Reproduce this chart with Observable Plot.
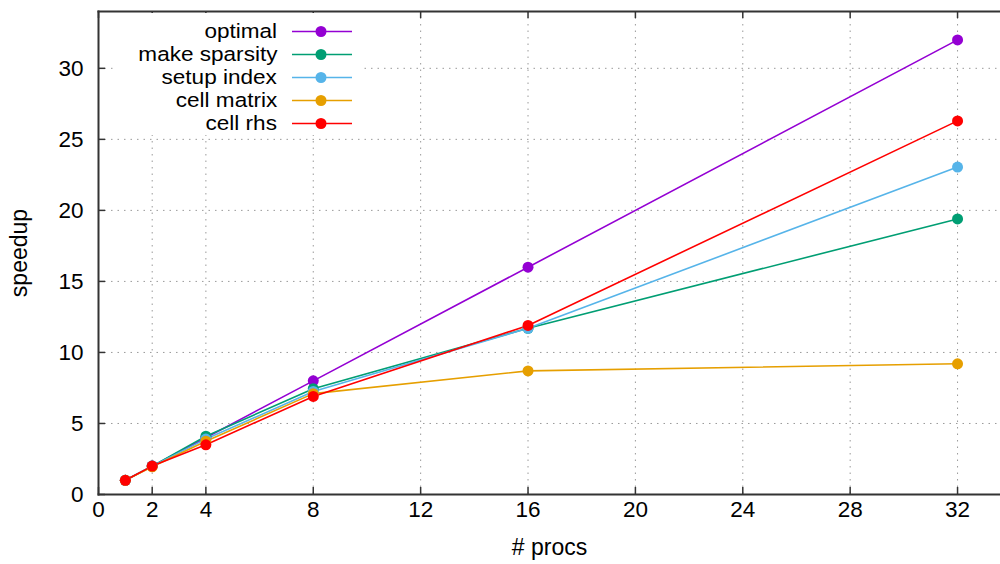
<!DOCTYPE html>
<html><head><meta charset="utf-8">
<script src="https://cdn.jsdelivr.net/npm/d3@7"></script>
<script src="https://cdn.jsdelivr.net/npm/@observablehq/plot@0.6"></script>
<style>
body{margin:0;background:#fff;font-family:"Liberation Sans",Arial,sans-serif;}
#wrap{position:relative;width:1000px;height:564px;overflow:hidden;}
#legend{position:absolute;left:113px;top:13px;width:250px;height:122px;background:#fff;}
.row{position:absolute;left:0;width:250px;height:23px;}
.row span{position:absolute;right:86px;top:0;display:block;height:22px;line-height:22px;font-size:20.5px;color:#000;white-space:nowrap;transform:scaleX(1.1);transform-origin:right center;}
.row svg{position:absolute;left:178px;top:0;}
</style></head><body>
<div id="wrap"><div id="chart"></div><div id="legend"></div></div>
<script>
const procs = [1, 2, 4, 8, 16, 32];
const seriesNames = ["optimal", "make sparsity", "setup index", "cell matrix", "cell rhs"];
const seriesColors = ["#9400d3", "#009e73", "#56b4e9", "#e69f00", "#ff0000"];
const optimal = [1, 2, 4, 8, 16, 32];
const makeSparsity = [1, 2, 4.1, 7.45, 11.7, 19.4];
const setupIndex = [1, 2, 3.9, 7.25, 11.7, 23.05];
const cellMatrix = [1, 1.95, 3.75, 7.1, 8.7, 9.2];
const cellRhs = [1, 2, 3.5, 6.9, 11.9, 26.3];
const xTicks = [0, 2, 4, 8, 12, 16, 20, 24, 28, 32];
const yTicks = [0, 5, 10, 15, 20, 25, 30];

const seriesValues = [optimal, makeSparsity, setupIndex, cellMatrix, cellRhs];
const data = [];
seriesNames.forEach((name, i) => {
  procs.forEach((p, j) => data.push({series: name, procs: p, speedup: seriesValues[i][j]}));
});

const W = 1000, H = 564, mL = 98, mR = 0, mT = 11, mB = 70;
const plotH = H - mT - mB;
const plotW = W - mL - mR;
const gridStyle = {stroke: "#9a9a9a", strokeOpacity: 1, strokeDasharray: "1.5,5", strokeWidth: 1};

const chart = Plot.plot({
  width: W, height: H,
  marginLeft: mL, marginRight: mR, marginTop: mT, marginBottom: mB,
  style: {fontFamily: "'Liberation Sans', Arial, sans-serif", fontSize: "22px", color: "#000", background: "#fff"},
  x: {domain: [0, 33.6]},
  y: {domain: [0, 34]},
  color: {domain: seriesNames, range: seriesColors},
  marks: [
    Plot.gridX(xTicks.filter(d => d > 0), gridStyle),
    Plot.gridY(yTicks.filter(d => d > 0), gridStyle),
    Plot.axisX(xTicks, {tickSize: 0, tickPadding: 7, fontSize: 22.5, label: null}),
    Plot.axisY(yTicks, {tickSize: 0, tickPadding: 15, fontSize: 22.5, label: null}),
    Plot.axisX({ticks: [], tickSize: 0, fontSize: 23, label: "# procs", labelAnchor: "center", labelArrow: "none", labelOffset: 60}),
    Plot.axisY({ticks: [], tickSize: 0, fontSize: 23, label: "speedup", labelAnchor: "center", labelArrow: "none", labelOffset: 88}),
    Plot.tickX(xTicks, {x: d => d, stroke: "#333", strokeWidth: 1.5, insetTop: plotH - 7}),
    Plot.tickX(xTicks, {x: d => d, stroke: "#333", strokeWidth: 1.5, insetBottom: plotH - 7}),
    Plot.tickY(yTicks, {y: d => d, stroke: "#333", strokeWidth: 1.5, insetRight: plotW - 7}),
    Plot.lineY(data, {x: "procs", y: "speedup", z: "series", stroke: "series", strokeWidth: 1.6}),
    Plot.dot(data, {x: "procs", y: "speedup", fill: "series", r: 5.5}),
    Plot.frame({anchor: "left", stroke: "#333", strokeWidth: 2}),
    Plot.frame({anchor: "top", stroke: "#333", strokeWidth: 2}),
    Plot.frame({anchor: "bottom", stroke: "#333", strokeWidth: 2})
  ]
});
document.getElementById("chart").appendChild(chart);

const legend = document.getElementById("legend");
seriesNames.forEach((name, i) => {
  const row = document.createElement("div");
  row.className = "row";
  row.style.top = (6.5 + i * 23) + "px";
  row.innerHTML = `<span>${name}</span><svg width="62" height="23"><line x1="1" x2="61" y1="11.5" y2="11.5" stroke="${seriesColors[i]}" stroke-width="1.6"/><circle cx="30" cy="11.5" r="5.5" fill="${seriesColors[i]}"/></svg>`;
  legend.appendChild(row);
});
</script>
</body></html>
